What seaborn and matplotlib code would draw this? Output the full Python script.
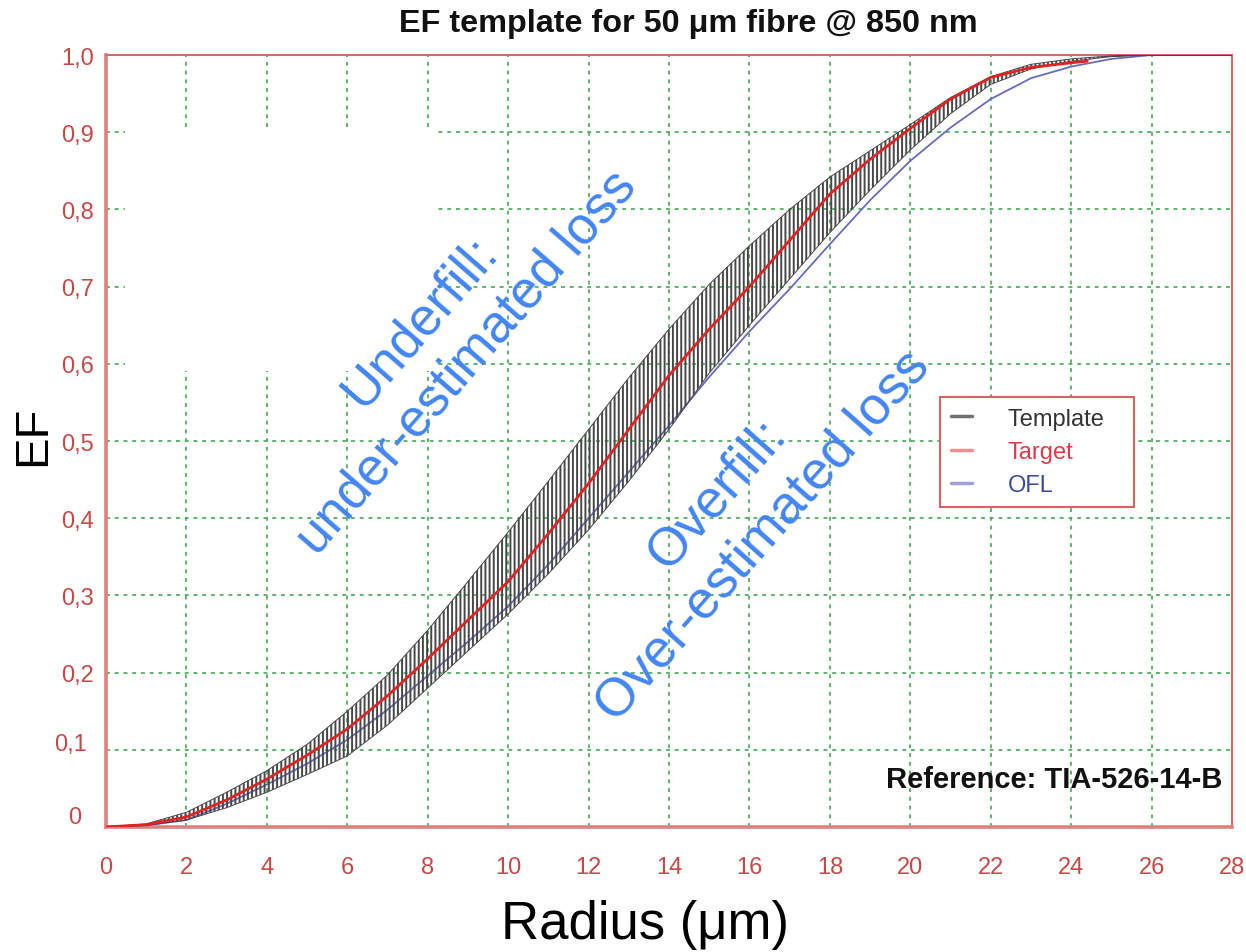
import pandas as pd
import matplotlib
matplotlib.use("Agg")
import matplotlib.pyplot as plt
import matplotlib.transforms as mtransforms
import seaborn as sns
from matplotlib.lines import Line2D
from matplotlib.patches import Rectangle

# values
radius = [0, 1, 2, 3, 4, 5, 6, 7, 8, 9, 10, 11, 12, 13, 14,
          15, 16, 17, 18, 19, 20, 21, 22, 23, 24, 25, 26, 27, 28]
template_upper = [0.0, 0.004, 0.019, 0.045, 0.073, 0.107, 0.150, 0.197, 0.255, 0.318,
                  0.382, 0.448, 0.515, 0.582, 0.645, 0.703, 0.753, 0.800, 0.842, 0.876,
                  0.910, 0.945, 0.972, 0.988, 0.995, 0.999, 1.0, 1.0, 1.0]
template_lower = [0.0, 0.002, 0.009, 0.025, 0.045, 0.068, 0.092, 0.132, 0.180, 0.228,
                  0.276, 0.328, 0.385, 0.448, 0.515, 0.588, 0.650, 0.710, 0.770, 0.825,
                  0.877, 0.924, 0.962, 0.982, 0.992, 0.998, 1.0, 1.0, 1.0]
target_radius = [0, 1, 2, 3, 4, 5, 6, 7, 8, 9, 10, 11, 12, 13, 14,
                 15, 16, 17, 18, 19, 20, 21, 22, 23, 24, 24.4]
target_ef = [0.0, 0.003, 0.013, 0.035, 0.062, 0.093, 0.127, 0.170, 0.218, 0.268,
             0.318, 0.380, 0.445, 0.515, 0.585, 0.645, 0.700, 0.760, 0.820, 0.865,
             0.905, 0.943, 0.971, 0.984, 0.990, 0.992]
ofl_ef = [0.0, 0.002, 0.009, 0.030, 0.055, 0.082, 0.113, 0.152, 0.196, 0.240,
          0.286, 0.340, 0.400, 0.460, 0.520, 0.583, 0.642, 0.697, 0.755, 0.812,
          0.863, 0.906, 0.943, 0.970, 0.985, 0.995, 1.0, 1.0, 1.0]

x_ticks = [0, 2, 4, 6, 8, 10, 12, 14, 16, 18, 20, 22, 24, 26, 28]
y_ticks = [0.0, 0.1, 0.2, 0.3, 0.4, 0.5, 0.6, 0.7, 0.8, 0.9, 1.0]
y_tick_labels = ["0", "0,1", "0,2", "0,3", "0,4", "0,5", "0,6", "0,7", "0,8", "0,9", "1,0"]
legend_labels = ["Template   ", "Target", "OFL"]

sns.set_theme(style="white")
plt.rcParams["font.family"] = ["Liberation Sans", "DejaVu Sans"]
plt.rcParams["hatch.linewidth"] = 1.4

red_axis = "#d66a6a"
tick_red = "#c84848"

fig = plt.figure(figsize=(12.46, 9.53), dpi=100)
ax = fig.add_axes([0.0851, 0.1312, 0.9037, 0.81])

df_target = pd.DataFrame({"Radius": target_radius, "EF": target_ef})
df_ofl = pd.DataFrame({"Radius": radius, "EF": ofl_ef})

# OFL under the template band
sns.lineplot(data=df_ofl, x="Radius", y="EF", ax=ax, color="#6a6abf", lw=1.3, zorder=3)
ax.fill_between(radius, template_lower, template_upper, facecolor="none",
                edgecolor="#474747", hatch="||||", lw=0.7, zorder=4)
sns.lineplot(data=df_target, x="Radius", y="EF", ax=ax, color="#e02222", lw=2.0, zorder=5)

ax.set_xlim(0, 28)
ax.set_ylim(0, 1)
ax.set_xticks(x_ticks)
ax.set_xticklabels([str(v) for v in x_ticks])
ax.set_yticks(y_ticks)
ax.set_yticklabels(y_tick_labels)
ax.tick_params(axis="both", direction="inout", length=16, width=1.5,
               color="#b86a6a", labelcolor=tick_red, labelsize=17)
ax.tick_params(axis="x", pad=13)
ax.tick_params(axis="y", pad=1)
ax.set_xlabel("")
ax.set_ylabel("")

# the two lowest y labels sit a little up and left in the original
ylabels = ax.get_yticklabels()
for lab, (dx, dy) in zip(ylabels[:2], [(-9, 9), (-5, 6)]):
    off = mtransforms.ScaledTranslation(dx / 72, dy / 72, fig.dpi_scale_trans)
    lab.set_transform(lab.get_transform() + off)

ax.set_axisbelow(True)
ax.grid(True, color="#4cae5c", linestyle=(0, (2, 2.5)), lw=1.4, alpha=0.9)
# blank patch in the upper-left of the original grid
ax.add_patch(Rectangle((0.017, 0.591), 0.276, 0.316, transform=ax.transAxes,
                       facecolor="white", edgecolor="none", zorder=1))

for side in ["left", "bottom"]:
    ax.spines[side].set_color("#df8080")
    ax.spines[side].set_linewidth(2.6)
for side in ["top", "right"]:
    ax.spines[side].set_color(red_axis)
    ax.spines[side].set_linewidth(1.5)

handles = [Line2D([], [], color="#707070", lw=2.5),
           Line2D([], [], color="#f09090", lw=2.5),
           Line2D([], [], color="#a0a0d8", lw=2.5)]
leg = ax.legend(handles, legend_labels, loc="upper left", bbox_to_anchor=(0.741, 0.557),
                borderaxespad=0, fontsize=17, frameon=True, fancybox=False,
                handlelength=0.9, handletextpad=1.5, borderpad=0.45, labelspacing=0.48)
leg.get_frame().set_edgecolor("#d96262")
leg.get_frame().set_linewidth(1.5)
leg.get_frame().set_alpha(1)
for txt, col in zip(leg.get_texts(), ["#333333", "#e03a4a", "#3a4a9e"]):
    txt.set_color(col)

ax.text(0.2993, 0.6295, "Underfill:\nunder-estimated loss", transform=ax.transAxes,
        color="#4285f4", fontsize=38, rotation=49, rotation_mode="anchor",
        ha="center", va="center", multialignment="center", linespacing=1.3, zorder=6)
ax.text(0.563, 0.405, "Overfill:\nOver-estimated loss", transform=ax.transAxes,
        color="#4285f4", fontsize=38.5, rotation=48.5, rotation_mode="anchor",
        ha="center", va="center", multialignment="center", linespacing=1.3, zorder=6)
ax.text(0.991, 0.062, "Reference: TIA-526-14-B", transform=ax.transAxes,
        ha="right", va="center", fontsize=21, fontweight="bold", color="#111111", zorder=6)

fig.text(688 / 1246, 1 - 24 / 953, "EF template for 50 μm fibre @ 850 nm",
         ha="center", va="center", fontsize=23.3, fontweight="bold", color="#111111")
fig.text(33 / 1246, 1 - 436 / 953, "EF", rotation=90, ha="center", va="center",
         fontsize=34, color="black")
fig.text(645 / 1246, 1 - 925 / 953, "Radius (μm)", ha="center", va="center",
         fontsize=38, color="black")

fig.savefig("out.png", dpi=100)
